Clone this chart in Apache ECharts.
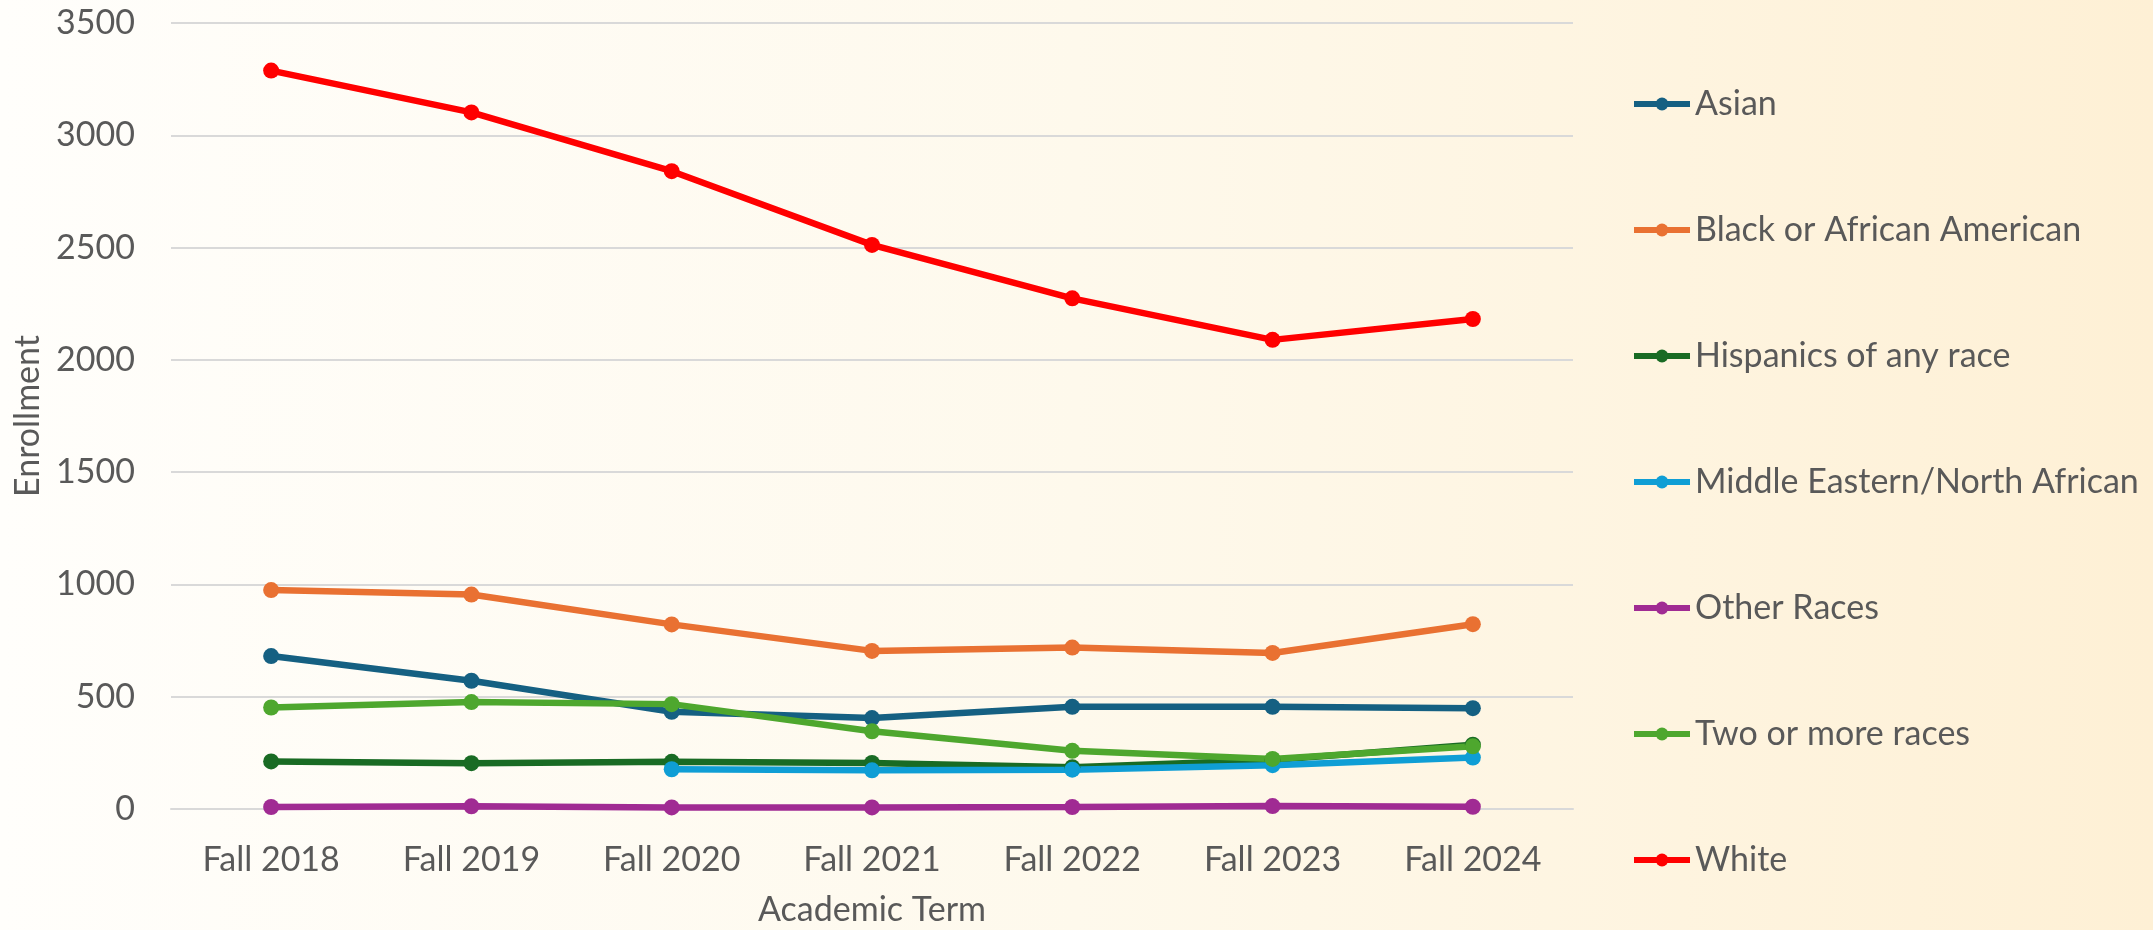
<!DOCTYPE html>
<html>
<head>
<meta charset="utf-8">
<script src="https://cdn.jsdelivr.net/npm/echarts@6/dist/echarts.min.js"></script>
<style>
  html, body { margin: 0; padding: 0; }
  #enrollment-chart { width: 2153px; height: 930px; }
</style>
</head>
<body>
<div id="enrollment-chart"></div>
<script>
// enrollment by race, fall terms
const terms = ['Fall 2018', 'Fall 2019', 'Fall 2020', 'Fall 2021', 'Fall 2022', 'Fall 2023', 'Fall 2024'];
const asian = [681, 571, 433, 405, 455, 455, 449];
const black = [975, 955, 822, 704, 719, 695, 823];
const hispanic = [212, 204, 210, 205, 186, 218, 286];
const mena = [null, null, 177, 172, 175, 195, 229];
const otherRaces = [9, 12, 7, 7, 9, 13, 10];
const twoOrMore = [452, 476, 467, 346, 259, 223, 279];
const white = [3288, 3102, 2840, 2512, 2274, 2089, 2182];
const yTicks = [0, 500, 1000, 1500, 2000, 2500, 3000, 3500];

const FONT = 'Lato';
const TEXT_COLOR = '#595959';

function lineSeries(name, data, color) {
  return {
    name: name,
    type: 'line',
    data: data,
    symbol: 'circle',
    symbolSize: 16,
    lineStyle: { width: 6.5, color: color },
    itemStyle: { color: color },
    emphasis: { disabled: true }
  };
}

const myChart = echarts.init(document.getElementById('enrollment-chart'));

const option = {
  animation: false,
  backgroundColor: {
    type: 'linear', x: 0, y: 0, x2: 1, y2: 0,
    colorStops: [
      { offset: 0, color: '#FFFEFB' },
      { offset: 0.5, color: '#FEF9EC' },
      { offset: 1, color: '#FEF0D5' }
    ]
  },
  textStyle: { fontFamily: FONT, color: TEXT_COLOR },
  grid: {
    left: 171,
    right: 580,
    top: 23,
    bottom: 121,
    containLabel: false,
    outerBoundsMode: 'none'
  },
  legend: {
    orient: 'vertical',
    left: 1626,
    top: 79,
    itemWidth: 56,
    itemHeight: 16,
    itemGap: 86,
    lineStyle: { width: 6 },
    textStyle: { fontFamily: FONT, fontSize: 34, color: TEXT_COLOR, lineHeight: 40 },
    data: ['Asian', 'Black or African American', 'Hispanics of any race', 'Middle Eastern/North African', 'Other Races', 'Two or more races', 'White']
  },
  xAxis: {
    type: 'category',
    data: terms,
    name: 'Academic Term',
    nameLocation: 'middle',
    nameGap: 84,
    nameTextStyle: { fontFamily: FONT, fontSize: 34, color: TEXT_COLOR },
    axisLine: { show: true, lineStyle: { color: '#D9D9D9', width: 2 } },
    axisTick: { show: false },
    axisLabel: { margin: 34, fontFamily: FONT, fontSize: 34, color: TEXT_COLOR }
  },
  yAxis: {
    type: 'value',
    min: yTicks[0],
    max: yTicks[yTicks.length - 1],
    interval: 500,
    name: 'Enrollment',
    nameLocation: 'middle',
    nameGap: 109,
    nameTextStyle: { fontFamily: FONT, fontSize: 34, color: TEXT_COLOR },
    axisLine: { show: false },
    axisTick: { show: false },
    axisLabel: {
      margin: 36, fontFamily: FONT, fontSize: 34, color: TEXT_COLOR,
      formatter: (v) => String(v)
    },
    splitLine: { lineStyle: { color: '#D9D9D9', width: 2 } }
  },
  series: [
    lineSeries('Asian', asian, '#156082'),
    lineSeries('Black or African American', black, '#E97132'),
    lineSeries('Hispanics of any race', hispanic, '#196B24'),
    lineSeries('Middle Eastern/North African', mena, '#0F9ED5'),
    lineSeries('Other Races', otherRaces, '#A02B93'),
    lineSeries('Two or more races', twoOrMore, '#4EA72E'),
    lineSeries('White', white, '#FF0000')
  ]
};

myChart.setOption(option);
</script>
</body>
</html>
